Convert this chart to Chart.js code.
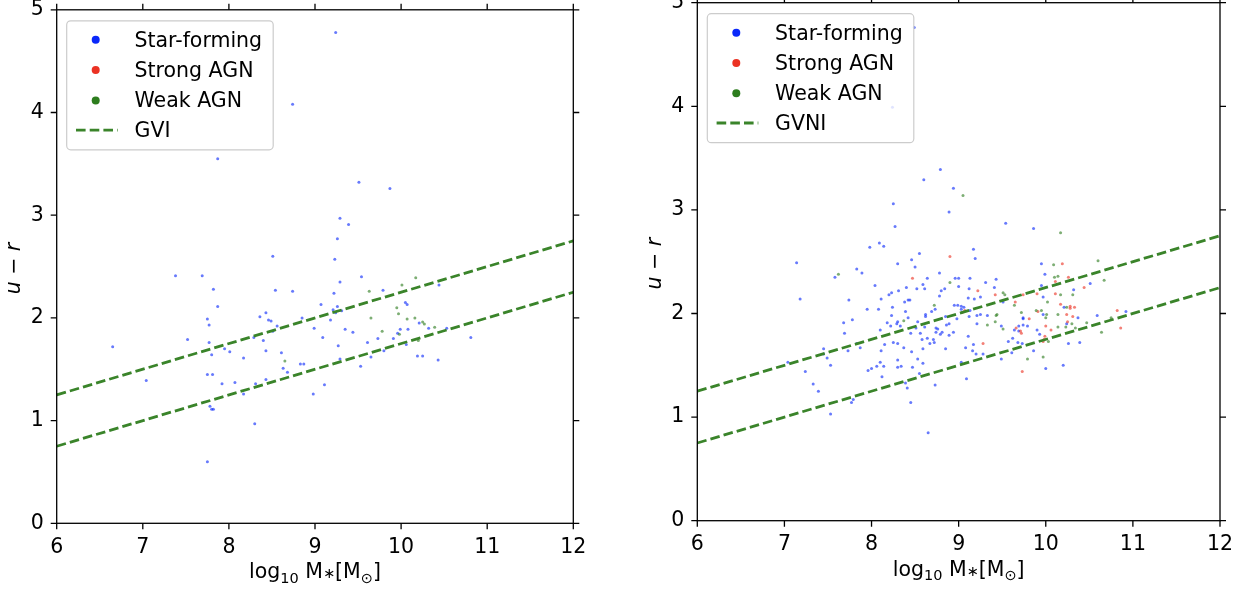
<!DOCTYPE html>
<html>
<head>
<meta charset="utf-8">
<script src="https://cdn.jsdelivr.net/npm/chart.js@4.4.0/dist/chart.umd.min.js"></script>
<style>
  html, body { margin: 0; padding: 0; background: #fff; }
  #wrap { position: relative; width: 1255px; height: 593px; }
  canvas { position: absolute; top: 0; }
  #leftChart { left: 0; }
  #rightChart { left: 627px; }
</style>
</head>
<body>
<div id="wrap">
  <canvas id="leftChart" width="627" height="593"></canvas>
  <canvas id="rightChart" width="628" height="593"></canvas>
</div>
<script>
// axis ticks and the two green-valley boundary lines
const xTicks = [6, 7, 8, 9, 10, 11, 12];
const yTicks = [0, 1, 2, 3, 4, 5];
const gvX = [6, 12];
const gvUpperY = [1.25, 2.75];
const gvLowerY = [0.75, 2.25];
const legendLabels = ['Star-forming', 'Strong AGN', 'Weak AGN'];

// left panel (GVI) - [log M*, u-r]
const leftStarForming = [
  [8.74,4.08],[7.87,3.55],[7.38,2.41],[7.69,2.41],[7.82,2.28],[8.51,2.60],[8.54,2.27],[8.74,2.26],
  [9.24,4.78],[9.51,3.32],[9.87,3.26],[9.29,2.97],[9.39,2.91],[9.26,2.77],[9.23,2.57],[9.54,2.40],
  [9.29,2.35],[9.22,2.24],[9.79,2.27],[10.44,2.32],[7.87,2.11],[7.75,1.99],[7.77,1.93],[8.43,2.05],
  [8.36,2.01],[8.46,1.98],[8.49,1.97],[8.56,1.92],[8.51,1.87],[8.29,1.81],[8.40,1.78],[7.77,1.76],
  [7.95,1.70],[8.01,1.67],[7.80,1.64],[8.17,1.61],[8.43,1.68],[8.61,1.66],[8.63,1.51],[8.68,1.47],
  [8.83,1.55],[8.87,1.55],[8.85,2.00],[9.07,2.13],[9.21,2.08],[9.26,2.11],[9.24,2.05],[9.31,2.07],
  [9.18,1.98],[8.99,1.90],[9.35,1.89],[9.44,1.86],[9.09,1.81],[9.27,1.73],[9.61,1.76],[9.73,1.80],
  [10.05,2.15],[10.07,2.13],[10.21,1.95],[10.32,1.90],[10.53,1.90],[10.81,1.81],[10.08,1.89],[9.99,1.89],
  [9.96,1.85],[9.91,1.80],[10.06,1.74],[9.80,1.68],[9.65,1.62],[10.19,1.63],[10.25,1.63],[10.43,1.59],
  [9.29,1.60],[9.53,1.53],[9.11,1.35],[8.98,1.26],[7.75,1.45],[7.81,1.45],[7.92,1.36],[8.07,1.37],
  [8.31,1.36],[8.43,1.40],[8.17,1.26],[7.78,1.14],[7.80,1.11],[7.82,1.11],[8.30,0.97],[7.75,0.60],
  [6.65,1.72],[7.04,1.39],[7.52,1.79]
];
const leftStrongAGN = [];
const leftWeakAGN = [
  [9.63,2.26],[10.01,2.32],[10.17,2.39],[8.65,1.58],[9.65,2.00],[9.78,1.87],[9.95,2.10],[9.97,2.04],
  [10.07,1.99],[10.16,2.00],[10.25,1.96],[10.27,1.94],[10.39,1.91],[9.98,1.84],[10.20,1.78]
];

// right panel (GVNI)
const rightStarForming = [
  [8.79,3.39],[8.60,3.29],[8.94,3.21],[8.25,3.06],[8.89,2.98],[8.27,2.84],[7.98,2.64],[8.09,2.68],
  [8.14,2.65],[7.14,2.49],[7.83,2.43],[7.89,2.39],[7.58,2.35],[8.30,2.48],[8.46,2.52],[8.55,2.58],
  [8.50,2.45],[8.64,2.34],[8.78,2.39],[8.96,2.34],[9.00,2.34],[9.00,2.26],[8.04,2.27],[7.18,2.14],
  [7.74,2.13],[8.31,2.22],[8.40,2.25],[8.52,2.24],[8.59,2.28],[8.61,2.24],[8.80,2.22],[8.84,2.24],
  [8.78,2.17],[8.20,2.18],[8.23,2.20],[8.11,2.14],[8.42,2.13],[8.44,2.13],[8.38,2.11],[7.95,2.04],
  [8.08,2.04],[8.24,2.06],[8.39,2.02],[8.23,1.98],[8.42,1.96],[8.73,2.04],[8.69,2.02],[8.62,1.99],
  [8.62,1.97],[8.53,1.92],[8.95,2.08],[8.99,2.08],[8.85,1.97],[7.68,1.91],[7.78,1.94],[7.69,1.81],
  [8.18,1.91],[8.30,1.92],[8.29,1.90],[8.33,1.88],[8.22,1.88],[8.10,1.84],[8.45,1.81],[8.51,1.86],
  [8.61,1.87],[8.56,1.81],[8.64,1.76],[8.58,1.75],[8.74,1.86],[8.76,1.85],[8.74,1.82],[8.81,1.82],
  [8.79,1.80],[8.86,1.89],[8.89,1.90],[8.89,1.79],[8.94,1.82],[8.71,1.75],[8.72,1.72],[8.67,1.71],
  [8.25,1.72],[8.30,1.71],[8.15,1.70],[7.83,1.71],[7.87,1.67],[8.37,1.67],[8.85,1.66],[8.59,1.66],
  [8.11,1.64],[8.46,1.63],[7.73,1.64],[7.45,1.66],[7.45,1.61],[7.49,1.57],[7.04,1.53],[7.53,1.50],
  [8.30,1.55],[8.53,1.56],[8.59,1.52],[8.10,1.53],[8.06,1.49],[8.14,1.49],[8.30,1.48],[8.34,1.49],
  [8.47,1.48],[8.00,1.47],[7.96,1.45],[7.24,1.44],[8.55,1.42],[8.12,1.39],[8.39,1.33],[8.41,1.28],
  [8.73,1.31],[7.33,1.32],[7.39,1.25],[7.79,1.17],[7.77,1.14],[8.45,1.14],[7.53,1.03],[8.65,0.85],
  [8.49,4.76],[8.24,3.99],[9.54,2.87],[9.86,2.82],[9.17,2.62],[9.19,2.53],[9.95,2.48],[9.99,2.38],
  [9.13,2.34],[9.31,2.30],[9.43,2.33],[9.41,2.25],[9.12,2.24],[9.95,2.27],[9.97,2.16],[10.32,2.23],
  [10.51,2.29],[9.11,2.15],[9.18,2.14],[9.25,2.16],[9.51,2.11],[10.21,2.06],[9.03,2.07],[9.06,2.06],
  [9.03,2.04],[9.13,2.03],[8.98,1.95],[9.12,1.97],[9.21,1.98],[9.25,1.99],[9.33,1.98],[9.21,1.90],
  [9.74,1.96],[9.74,1.95],[9.97,1.99],[10.37,1.96],[10.59,1.98],[10.92,2.02],[10.24,1.90],[9.93,1.80],
  [9.90,1.84],[9.79,1.88],[9.69,1.88],[9.74,1.89],[9.64,1.84],[9.69,1.83],[9.49,1.88],[9.62,1.76],
  [9.57,1.73],[9.68,1.72],[9.73,1.71],[9.61,1.62],[9.86,1.64],[9.49,1.56],[10.00,1.47],[10.20,1.50],
  [10.26,1.71],[10.39,1.72],[9.17,1.70],[9.08,1.67],[9.11,1.78],[9.16,1.64],[9.20,1.61],[9.28,1.61],
  [9.03,1.53],[9.09,1.37]
];
const rightStrongAGN = [
  [8.90,2.55],[8.47,2.34],[10.19,2.48],[10.26,2.35],[10.11,2.31],[9.22,2.22],[9.42,2.18],[9.74,2.18],
  [9.90,2.19],[10.11,2.19],[10.44,2.25],[9.65,2.11],[10.17,2.09],[10.28,2.07],[10.28,2.05],[10.33,2.06],
  [9.07,2.03],[9.04,2.01],[9.81,1.95],[9.91,2.02],[10.24,1.99],[10.31,1.97],[10.82,2.03],[10.86,1.86],
  [10.25,1.92],[10.06,1.84],[10.00,1.88],[9.99,1.78],[9.98,1.75],[9.97,1.73],[9.72,1.81],[9.71,1.83],
  [9.66,1.86],[9.73,1.44],[9.28,1.71]
];
const rightWeakAGN = [
  [7.62,2.38],[8.90,2.30],[8.72,2.08],[8.37,1.93],[9.05,3.14],[10.17,2.78],[10.09,2.47],[10.60,2.51],
  [10.10,2.35],[10.14,2.36],[9.51,2.20],[9.53,2.18],[10.17,2.18],[10.31,2.18],[10.67,2.32],[9.64,2.08],
  [10.02,2.11],[10.24,2.06],[9.43,1.98],[9.44,1.99],[9.42,1.92],[9.33,1.89],[9.72,2.01],[9.89,2.03],
  [9.95,2.03],[10.00,1.96],[10.01,1.99],[10.14,1.99],[10.75,1.96],[10.64,1.82],[10.47,1.91],[10.30,1.90],
  [10.23,1.87],[10.34,1.86],[10.14,1.87],[10.03,1.73],[9.51,1.85],[9.79,1.56],[9.97,1.58]
];

const FS = 20.5;
const colors = { sf: '#0a28fa', strong: '#eb3223', weak: '#2d7d1e', line: '#3a842a' };
const dotColors = { sf: 'rgba(10,40,250,0.62)', strong: 'rgba(235,50,35,0.62)', weak: 'rgba(45,125,30,0.62)' };

Chart.defaults.font.family = 'DejaVu Sans';

function toPoints(pairs) {
  return pairs.map(p => ({ x: p[0], y: p[1] }));
}

function linePoints(ys) {
  return gvX.map((x, i) => ({ x: x, y: ys[i] }));
}

// draw a row of text pieces (for sub/superscripts), centred on cx
function drawRuns(ctx, runs, cx, baseline) {
  const fontOf = r => (r.italic ? 'italic ' : '') + (r.size || FS) + 'px "DejaVu Sans"';
  let total = 0;
  runs.forEach(r => {
    ctx.font = fontOf(r);
    r.w = ctx.measureText(r.t).width;
    total += r.w;
  });
  let x = cx - total / 2;
  ctx.textAlign = 'left';
  ctx.textBaseline = 'alphabetic';
  ctx.fillStyle = '#000';
  runs.forEach(r => {
    ctx.font = fontOf(r);
    ctx.fillText(r.t, x, baseline + (r.dy || 0));
    x += r.w;
  });
}

// frame, ticks on all sides, axis titles and the legend box
const panelDecor = {
  id: 'panelDecor',
  afterDraw(chart, args, opts) {
    const ctx = chart.ctx;
    const a = chart.chartArea;
    const xs = chart.scales.x, ys = chart.scales.y;
    ctx.save();

    ctx.strokeStyle = '#000';
    ctx.lineWidth = 1.3;
    ctx.strokeRect(a.left, a.top, a.right - a.left, a.bottom - a.top);
    ctx.beginPath();
    xTicks.forEach(v => {
      const px = xs.getPixelForValue(v);
      ctx.moveTo(px, a.bottom); ctx.lineTo(px, a.bottom + 6);
      ctx.moveTo(px, a.top); ctx.lineTo(px, a.top - 6);
    });
    yTicks.forEach(v => {
      const py = ys.getPixelForValue(v);
      ctx.moveTo(a.left, py); ctx.lineTo(a.left - 6, py);
      ctx.moveTo(a.right, py); ctx.lineTo(a.right + 6, py);
    });
    ctx.stroke();

    // x title: log10 M*[Msun]
    drawRuns(ctx, [
      { t: 'log' },
      { t: '10', size: 14.5, dy: 4.5 },
      { t: ' M' },
      { t: '\u2217', size: 14.5 },
      { t: '[M' },
      { t: '\u2299', size: 14.5, dy: 4.5 },
      { t: ']' }
    ], (a.left + a.right) / 2, a.bottom + 55);

    // y title: u - r
    ctx.save();
    ctx.translate(a.left - 36.5, (a.top + a.bottom) / 2 + 2);
    ctx.rotate(-Math.PI / 2);
    drawRuns(ctx, [{ t: 'u', italic: true }, { t: ' \u2212 ' }, { t: 'r', italic: true }], 0, 0);
    ctx.restore();

    // legend
    const bx = a.left + 10, by = a.top + 11, bw = 206.5, bh = 129;
    ctx.fillStyle = 'rgba(255,255,255,0.8)';
    ctx.strokeStyle = '#cccccc';
    ctx.lineWidth = 1.2;
    ctx.beginPath();
    ctx.roundRect(bx, by, bw, bh, 4);
    ctx.fill();
    ctx.stroke();

    const rows = [19, 49.3, 79.6, 109.3];
    [colors.sf, colors.strong, colors.weak].forEach((c, i) => {
      ctx.fillStyle = c;
      ctx.beginPath();
      ctx.arc(bx + 29, by + rows[i], 4, 0, Math.PI * 2);
      ctx.fill();
    });
    ctx.strokeStyle = colors.line;
    ctx.lineWidth = 2.8;
    ctx.setLineDash([9.6, 4.1]);
    ctx.beginPath();
    ctx.moveTo(bx + 9.3, by + rows[3]);
    ctx.lineTo(bx + 51, by + rows[3]);
    ctx.stroke();
    ctx.setLineDash([]);

    ctx.fillStyle = '#000';
    ctx.font = FS + 'px "DejaVu Sans"';
    ctx.textAlign = 'left';
    ctx.textBaseline = 'alphabetic';
    legendLabels.concat([opts.lineLabel]).forEach((t, i) => {
      ctx.fillText(t, bx + 67.8, by + rows[i] + 7);
    });

    ctx.restore();
  }
};

function makeChart(id, sf, strong, weak, lineLabel, pad, yWidth) {
  const lineStyle = {
    type: 'line', showLine: true, fill: false, pointRadius: 0,
    borderColor: colors.line, borderWidth: 2.8, borderDash: [9.6, 4.1], order: 0
  };
  return new Chart(document.getElementById(id), {
    type: 'scatter',
    data: {
      datasets: [
        { label: legendLabels[0], data: toPoints(sf), backgroundColor: dotColors.sf, order: 3 },
        { label: legendLabels[1], data: toPoints(strong), backgroundColor: dotColors.strong, order: 2 },
        { label: legendLabels[2], data: toPoints(weak), backgroundColor: dotColors.weak, order: 1 },
        Object.assign({ label: lineLabel, data: linePoints(gvUpperY) }, lineStyle),
        Object.assign({ label: lineLabel + ' low', data: linePoints(gvLowerY) }, lineStyle)
      ]
    },
    options: {
      responsive: false,
      animation: false,
      devicePixelRatio: 1,
      layout: { padding: pad },
      elements: { point: { radius: 1.5, hoverRadius: 1.5, borderWidth: 0 } },
      plugins: {
        legend: { display: false },
        tooltip: { enabled: false },
        panelDecor: { lineLabel: lineLabel }
      },
      scales: {
        x: {
          type: 'linear', min: 6, max: 12,
          grid: { display: false, drawTicks: false }, border: { display: false },
          ticks: { stepSize: 1, padding: 12, color: '#000', font: { size: FS }, maxRotation: 0, autoSkip: false },
          afterFit: s => {
            s.height = 40;
            s.paddingLeft = 0;
            s.paddingRight = 0;
          }
        },
        y: {
          type: 'linear', min: 0, max: 5,
          grid: { display: false, drawTicks: false }, border: { display: false },
          ticks: { stepSize: 1, padding: 13, color: '#000', font: { size: FS } },
          afterFit: s => {
            s.width = yWidth;
            s.paddingTop = 0;
            s.paddingBottom = 0;
          }
        }
      }
    },
    plugins: [panelDecor]
  });
}

makeChart('leftChart', leftStarForming, leftStrongAGN, leftWeakAGN, 'GVI',
  { left: 0, top: 9.8, right: 53.7, bottom: 29.7 }, 56.7);
makeChart('rightChart', rightStarForming, rightStrongAGN, rightWeakAGN, 'GVNI',
  { left: 0, top: 2.7, right: 35, bottom: 32.3 }, 70.3);
</script>
</body>
</html>
